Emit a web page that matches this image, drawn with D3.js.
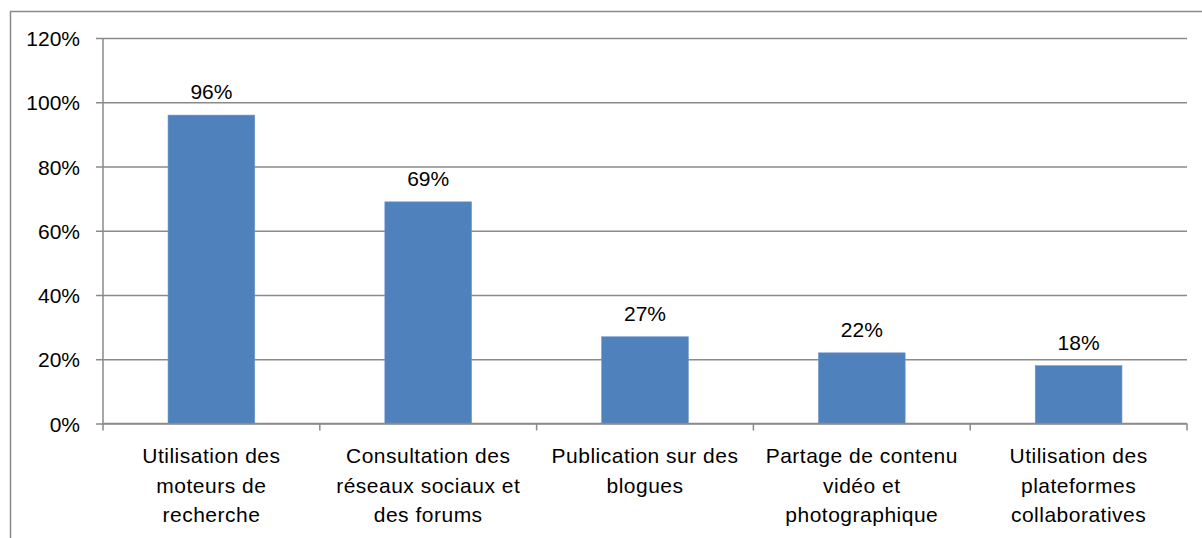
<!DOCTYPE html>
<html>
<head>
<meta charset="utf-8">
<script src="https://cdn.jsdelivr.net/npm/d3@7"></script>
<style>
  html, body { margin: 0; padding: 0; background: #fff; overflow: hidden; }
  svg { display: block; font-family: "Liberation Sans", Arial, sans-serif; }
  text { fill: #000; }
</style>
</head>
<body>
<svg id="chart"></svg>
<script>
const width = 1202,
  height = 538;

// chart data
const categories = [
  'Utilisation des moteurs de recherche',
  'Consultation des réseaux sociaux et des forums',
  'Publication sur des blogues',
  'Partage de contenu vidéo et photographique',
  'Utilisation des plateformes collaboratives'
];
const labelLines = [
  ['Utilisation des', 'moteurs de', 'recherche'],
  ['Consultation des', 'réseaux sociaux et', 'des forums'],
  ['Publication sur des', 'blogues'],
  ['Partage de contenu', 'vidéo et', 'photographique'],
  ['Utilisation des', 'plateformes', 'collaboratives']
];
const values = [0.96, 0.69, 0.27, 0.22, 0.18];
const yTicks = [0, 0.2, 0.4, 0.6, 0.8, 1.0, 1.2];

function main() {
  const svg = d3.select('#chart')
    .attr('width', width)
    .attr('height', height);

  // outer frame (runs off the right and bottom edges)
  svg.append('rect')
    .attr('x', 10.5)
    .attr('y', 11.5)
    .attr('width', width + 20)
    .attr('height', height + 20)
    .attr('fill', 'none')
    .attr('stroke', '#8a8a8a')
    .attr('stroke-width', 1.5);

  const x = d3.scaleBand()
    .domain(categories)
    .range([103, 1187])
    .paddingInner(0.6)
    .paddingOuter(0.3);

  const y = d3.scaleLinear()
    .domain([0, 1.2])
    .range([423.5, 38]);

  // gridlines + left ticks
  const yAxis = d3.axisLeft(y)
    .tickValues(yTicks)
    .tickSize(-(1187 - 103))
    .tickPadding(0)
    .tickFormat(d3.format('.0%'));

  const gy = svg.append('g')
    .attr('transform', 'translate(103,0)')
    .call(yAxis);
  gy.select('.domain').remove();
  gy.selectAll('.tick line')
    .attr('x1', -7)
    .attr('stroke', '#8a8a8a')
    .attr('stroke-width', 1.5);
  gy.selectAll('.tick text')
    .attr('x', -23)
    .attr('dy', '0.36em')
    .attr('font-size', 21)
    .attr('font-family', '"Liberation Sans", Arial, sans-serif')
    .attr('fill', '#000');

  // y axis line
  svg.append('line')
    .attr('x1', 103).attr('x2', 103)
    .attr('y1', y(1.2)).attr('y2', y(0))
    .attr('stroke', '#8a8a8a')
    .attr('stroke-width', 1.5);

  // bars
  svg.append('g')
    .selectAll('rect')
    .data(values)
    .join('rect')
    .attr('x', (d, i) => x(categories[i]))
    .attr('y', d => y(d))
    .attr('width', x.bandwidth())
    .attr('height', d => y(0) - y(d))
    .attr('fill', '#4F81BD')
    .attr('stroke', '#6f97c9')
    .attr('stroke-width', 0.6);

  // value labels
  svg.append('g')
    .selectAll('text')
    .data(values)
    .join('text')
    .attr('x', (d, i) => x(categories[i]) + x.bandwidth() / 2)
    .attr('y', d => y(d) - 16)
    .attr('text-anchor', 'middle')
    .attr('font-size', 21)
    .text(d => d3.format('.0%')(d));

  // x axis line + boundary ticks
  svg.append('line')
    .attr('x1', 103).attr('x2', 1187)
    .attr('y1', y(0)).attr('y2', y(0))
    .attr('stroke', '#8a8a8a')
    .attr('stroke-width', 1.5);

  const step = x.step();
  svg.append('g')
    .selectAll('line')
    .data(d3.range(categories.length + 1))
    .join('line')
    .attr('x1', i => 103 + i * step)
    .attr('x2', i => 103 + i * step)
    .attr('y1', y(0))
    .attr('y2', y(0) + 7)
    .attr('stroke', '#8a8a8a')
    .attr('stroke-width', 1.5);

  // category labels
  const cat = svg.append('g')
    .selectAll('text')
    .data(categories)
    .join('text')
    .attr('text-anchor', 'middle')
    .attr('font-size', 21)
    .attr('letter-spacing', 0.5);

  cat.selectAll('tspan')
    .data((d, i) => labelLines[i].map(line => ({ line, cx: x(d) + x.bandwidth() / 2 })))
    .join('tspan')
    .attr('x', d => d.cx)
    .attr('y', (d, j) => 463 + j * 29.5)
    .text(d => d.line);
}

main();
</script>
</body>
</html>
